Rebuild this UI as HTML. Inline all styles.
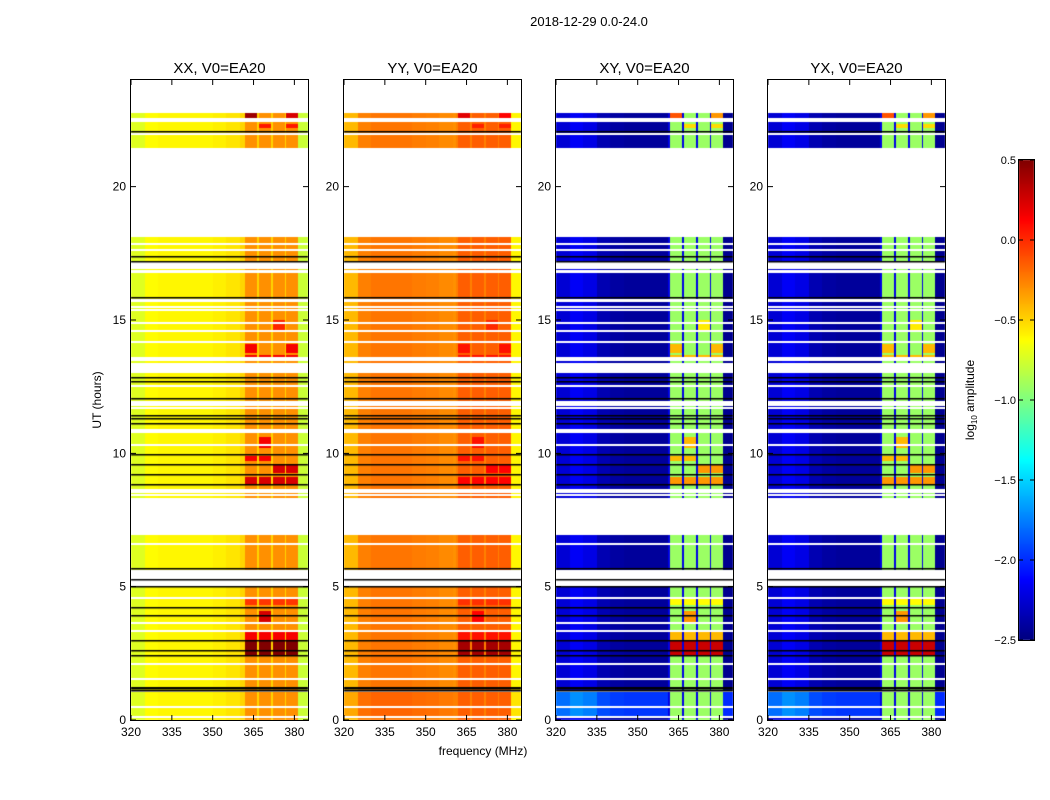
<!DOCTYPE html>
<html><head><meta charset="utf-8">
<style>
body{margin:0;background:#fff;font-family:"Liberation Sans",sans-serif;}
#wrap{position:relative;width:1050px;height:800px;overflow:hidden;}
canvas{position:absolute;left:0;top:0;}
svg{position:absolute;left:0;top:0;}
text{font-family:"Liberation Sans",sans-serif;fill:#000;}
</style></head>
<body>
<div id="wrap">
<canvas id="cv" width="1050" height="800"></canvas>
<svg id="sv" width="1050" height="800"></svg>
</div>
<script>
// ---- data ----
const panelTitles = ["XX, V0=EA20","YY, V0=EA20","XY, V0=EA20","YX, V0=EA20"];
const xTicks = [320,335,350,365,380];
const yTicks = [0,5,10,15,20];
const cbTicks = [0.5,0.0,-0.5,-1.0,-1.5,-2.0,-2.5];
const segments = [[0,5.03],[5.62,6.93],[8.33,18.13],[21.46,22.77]];
const whiteGaps = [[5.06,5.24],[5.32,5.62],[16.91,17.16],[15.66,15.8],[13.03,13.37],[13.45,13.6],[11.76,11.98],[10.75,10.9],[8.5,8.65]];
const whiteLines = [4.57,3.64,3.34,2.1,1.52,1.09,0.5,0.12,6.59,8.43,10.3,11.69,12.51,14.16,14.57,14.87,15.36,15.47,16.79,16.84,17.63,17.85,21.97,22.45,22.54];
const blackLines = [5.02,5.28,4.24,3.93,2.99,2.64,2.43,1.25,1.2,1.14,5.69,8.84,9.21,9.59,9.96,11.12,11.31,11.42,12.06,12.7,12.85,15.88,17.2,17.39,22.1];
// background per 5 MHz (320..385), per panel
const bgXX = [-0.72,-0.62,-0.6,-0.6,-0.6,-0.6,-0.58,-0.55,-0.5,-0.4,-0.35,-0.4,-0.78];
const bgYY = [-0.42,-0.25,-0.22,-0.22,-0.22,-0.24,-0.25,-0.28,-0.3,-0.25,-0.25,-0.3,-0.6];
const bgXY = [-2.25,-2.15,-2.2,-2.35,-2.4,-2.42,-2.42,-2.42,-2.42,-2.42,-2.42,-2.42,-2.45];
const bgYX = [-2.25,-2.15,-2.2,-2.35,-2.4,-2.42,-2.42,-2.42,-2.42,-2.42,-2.42,-2.42,-2.45];
const bandLevel = [-0.3,-0.15,-0.92,-0.92];
const gapLevel = [-0.5,-0.25,-2.2,-2.2];
const eventScale = [0.9,0.45,1.0,1.0];
const bandEdges = [361.3,366.3,371.3,376.4,381.4];
// events: start hour, end hour, boost, subband (-1 = all)
const evStart = [2.45,3.0,3.65,8.85,9.25,9.25,9.7,9.7,10.2,13.45,13.75,13.75,22.55,22.55,22.2,22.2,14.6,4.3];
const evEnd   = [2.95,3.3,4.1,9.1,9.55,9.55,9.9,9.9,10.6,13.7,14.1,14.1,22.75,22.75,22.35,22.35,15.0,4.6];
const evBoost = [1.2,0.5,0.6,0.6,0.6,0.6,0.5,0.5,0.5,0.5,0.5,0.5,0.8,0.6,0.4,0.4,0.35,0.3];
const evSub   = [-1,-1,1,-1,2,3,0,1,1,-1,0,3,0,3,1,3,2,-1];
// background lift (0.1-1.05 h brighter in cross-pols)
const liftStart = [0.12,1.09];
const liftEnd = [1.09,1.14];
const liftVal = [[0,0.05,0.45,0.45],[0,0,0.2,0.2]];

// ---- geometry ----
const panelLeft = [131,344,556,768];
const PW = 177, TOP = 80, BOT = 720;
const fMin = 320, fMax = 385, tMin = 0, tMax = 24;
const xs = (p,f) => panelLeft[p] + (f - fMin) / (fMax - fMin) * PW;
const ys = t => BOT - (t - tMin) / (tMax - tMin) * (BOT - TOP);
const cbTop = 160, cbBot = 640, cbX = 1019, cbW = 15, vMin = -2.5, vMax = 0.5;
const cbY = v => cbBot - (v - vMin) / (vMax - vMin) * (cbBot - cbTop);
function jet(v){
  let x = (v - vMin)/(vMax - vMin); x = Math.max(0, Math.min(1, x));
  const c = a => Math.round(255*Math.max(0, Math.min(1, 1.5 - Math.abs(4*x - a))));
  return `rgb(${c(3)},${c(2)},${c(1)})`;
}
const bgs = [bgXX,bgYY,bgXY,bgYX];
function value(p,f,t){
  let v = bgs[p][Math.min(12, Math.floor((f - fMin)/5))];
  for(let i=0;i<liftStart.length;i++) if(t>=liftStart[i]&&t<liftEnd[i]) v += liftVal[i][p];
  if(f >= bandEdges[0] && f < bandEdges[4]){
    let s = 0; while(s<3 && f >= bandEdges[s+1]) s++;
    if(f - bandEdges[s] < 0.7) return gapLevel[p];
    v = bandLevel[p];
    for(let i=0;i<evStart.length;i++)
      if(t>=evStart[i] && t<evEnd[i] && (evSub[i]<0 || evSub[i]===s)) v += evBoost[i]*eventScale[p];
  }
  return v;
}
const inSeg = t => segments.some(s => t>=s[0] && t<s[1]) && !whiteGaps.some(g => t>=g[0] && t<g[1]);

// ---- draw heatmap ----
const ctx = document.getElementById('cv').getContext('2d');
const fOfX = (p,x) => fMin + (x + 0.5 - panelLeft[p]) / PW * (fMax - fMin);
const tOfY = y => tMin + (BOT - (y + 0.5)) / (BOT - TOP) * (tMax - tMin);
for(let p=0;p<4;p++){
  for(let y=TOP; y<BOT; y++){
    const t = tOfY(y);
    if(!inSeg(t)) continue;
    for(let x=panelLeft[p]; x<panelLeft[p]+PW; x++){
      ctx.fillStyle = jet(value(p,fOfX(p,x),t));
      ctx.fillRect(x, y, 1, 1);
    }
  }
  ctx.fillStyle = '#fff';
  whiteLines.forEach(t => ctx.fillRect(panelLeft[p], Math.round(ys(t))-1, PW, 2));
  ctx.fillStyle = '#000';
  blackLines.forEach(t => ctx.fillRect(panelLeft[p], Math.round(ys(t)), PW, 1.5));
}
// colorbar
for(let y=cbTop; y<cbBot; y++){
  const v = vMin + (cbBot - y - 0.5) / (cbBot - cbTop) * (vMax - vMin);
  ctx.fillStyle = jet(v);
  ctx.fillRect(cbX, y, cbW, 1);
}

// ---- svg axes ----
const NS = 'http://www.w3.org/2000/svg';
const sv = document.getElementById('sv');
function mk(tag, attrs, txt){
  const e = document.createElementNS(NS, tag);
  for(const k in attrs) e.setAttribute(k, attrs[k]);
  if(txt !== undefined) e.textContent = txt;
  sv.appendChild(e); return e;
}
let e;
e = mk('text',{x:589,y:26,'font-size':13,'text-anchor':'middle'},'2018-12-29 0.0-24.0');


for(let p=0;p<4;p++){
  const L = panelLeft[p];
  e = mk('rect',{x:L-0.5,y:TOP-0.5,width:PW+1,height:BOT-TOP+1,fill:'none',stroke:'#000','stroke-width':1});
  
  
  e = mk('text',{x:L+PW/2,y:73,'font-size':15,'text-anchor':'middle'},panelTitles[p]);
  
  
  xTicks.forEach(f => {
    const x = xs(p,f);
    e = mk('path',{d:`M${x},${BOT}v-5M${x},${TOP}v5`,stroke:'#000','stroke-width':1});
    
    
    e = mk('text',{x:x,y:BOT+16,'font-size':12,'text-anchor':'middle'},String(f));
    
    
  });
  yTicks.forEach(t => {
    const y = ys(t);
    e = mk('path',{d:`M${L},${y}h5M${L+PW},${y}h-5`,stroke:'#000','stroke-width':1});
    
    
    e = mk('text',{x:L-5,y:y+4,'font-size':12,'text-anchor':'end'},String(t));
    
    
  });
}
e = mk('text',{x:0,y:0,'font-size':12,'text-anchor':'middle',transform:'translate(101,400) rotate(-90)'},'UT (hours)');


e = mk('text',{x:483,y:755,'font-size':12,'text-anchor':'middle'},'frequency (MHz)');


e = mk('rect',{x:cbX-0.5,y:cbTop-0.5,width:cbW+1,height:cbBot-cbTop+1,fill:'none',stroke:'#000','stroke-width':1});


cbTicks.forEach(v => {
  const y = cbY(v);
  e = mk('path',{d:`M${cbX},${y}h4M${cbX+cbW},${y}h-4`,stroke:'#000','stroke-width':1});
  
  
  e = mk('text',{x:cbX-3,y:y+4,'font-size':11,'text-anchor':'end'},(v<0?'\u2212':'')+Math.abs(v).toFixed(1));
  
  
});
e = mk('text',{x:0,y:0,'font-size':12,'text-anchor':'middle',transform:'translate(974,400) rotate(-90)'});


const t1 = document.createElementNS(NS,'tspan'); t1.textContent='log'; e.appendChild(t1);
const t2 = document.createElementNS(NS,'tspan'); t2.setAttribute('font-size','8'); t2.setAttribute('dy','3'); t2.textContent='10'; e.appendChild(t2);
const t3 = document.createElementNS(NS,'tspan'); t3.setAttribute('dy','-3'); t3.textContent=' amplitude'; e.appendChild(t3);
</script>
</body></html>
